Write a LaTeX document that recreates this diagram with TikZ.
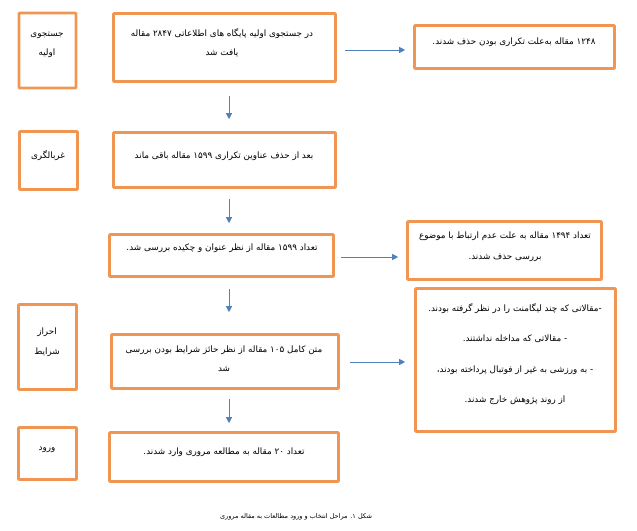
\documentclass[tikz,border=0pt]{standalone}
\usepackage{fontspec}
\newfontfamily\persianfont[Script=Arabic]{DejaVu Sans}
\TeXXeTstate=1
\usetikzlibrary{arrows.meta, positioning}
\definecolor{boxorange}{RGB}{240,150,82}
\definecolor{arrowblue}{RGB}{79,129,189}

\begin{document}
\begin{tikzpicture}[
    x=1pt, y=-1pt,
    >={Triangle[length=6pt, width=6pt]},
    orangebox/.style={rectangle, draw=boxorange, line width=2.6pt, rounded corners=0.8pt, inner sep=0pt},
    fatext/.style={font=\persianfont\fontsize{8.8}{19}\selectfont, align=center, inner sep=0pt},
    flow/.style={->, draw=arrowblue, line width=0.9pt},
]
\useasboundingbox (0,0) rectangle (637,530);

% Stage boxes (left column)
\node[orangebox, minimum width=57pt, minimum height=75pt] (search) at (47.5,50.5) {};
\node[orangebox, minimum width=58pt, minimum height=58pt] (screen) at (48.5,160.5) {};
\node[orangebox, minimum width=58pt, minimum height=85pt] (elig) at (47.5,347) {};
\node[orangebox, minimum width=58pt, minimum height=52pt] (incl) at (47.5,453.5) {};

\node[fatext] (searcht) at (47,44.5) {\beginR جستجوی\endR\\\beginR اولیه\endR};
\node[fatext] (screent) at (48,156) {\beginR غربالگری\endR};
\node[fatext, font=\persianfont\fontsize{8.8}{20}\selectfont] (eligt) at (47,342) {\beginR احراز\endR\\\beginR شرایط\endR};
\node[fatext] (inclt) at (47,450) {\beginR ورود\endR};

% Main flow (middle column)
\node[orangebox, minimum width=222pt, minimum height=68pt] (found) at (224.5,47.5) {};
\node[orangebox, minimum width=222pt, minimum height=55pt] (left) at (224.5,160) {};
\node[orangebox, minimum width=224pt, minimum height=42pt] (title) at (221.5,255.5) {};
\node[orangebox, minimum width=227pt, minimum height=54pt] (full) at (225,361.5) {};
\node[orangebox, minimum width=229pt, minimum height=49pt] (final) at (224,457) {};

\node[fatext] (foundt) at (222,42.5) {\beginR در جستجوی اولیه پایگاه های اطلاعاتی ۲۸۴۷ مقاله\endR\\\beginR یافت شد\endR};
\node[fatext] (leftt) at (224,156) {\beginR بعد از حذف عناوین تکراری ۱۵۹۹ مقاله باقی ماند\endR};
\node[fatext] (titlet) at (222,248) {\beginR تعداد ۱۵۹۹ مقاله از نظر عنوان و چکیده بررسی شد.\endR};
\node[fatext] (fullt) at (224,359) {\beginR متن کامل ۱۰۵ مقاله از نظر حائز شرایط بودن بررسی\endR\\\beginR شد\endR};
\node[fatext] (finalt) at (224,452) {\beginR تعداد ۲۰ مقاله به مطالعه مروری وارد شدند.\endR};

% Excluded (right column)
\node[orangebox, minimum width=200pt, minimum height=43pt] (dup) at (514.5,47) {};
\node[orangebox, minimum width=194pt, minimum height=58pt] (irrel) at (504.5,250.5) {};
\node[orangebox, minimum width=200pt, minimum height=143pt] (excl) at (515.5,360) {};

\node[fatext] (dupt) at (514,42) {\beginR ۱۲۴۸ مقاله به‌علت تکراری بودن حذف شدند.\endR};
\node[fatext, font=\persianfont\fontsize{8.8}{21}\selectfont] (irrelt) at (505,246.5) {\beginR تعداد ۱۴۹۴ مقاله به علت عدم ارتباط با موضوع\endR\\\beginR بررسی حذف شدند.\endR};
\node[fatext, font=\persianfont\fontsize{8.8}{30.5}\selectfont] (exclt) at (515,354) {\beginR -مقالاتی که چند لیگامنت را در نظر گرفته بودند.\endR\\\beginR - مقالاتی که مداخله نداشتند.\endR\\\beginR - به ورزشی به غیر از فوتبال پرداخته بودند،\endR\\\beginR از روند پژوهش خارج شدند.\endR};

% Caption
\node[fatext, font=\persianfont\fontsize{6.5}{10}\selectfont] (caption) at (296,517) {\beginR شکل ۱. مراحل انتخاب و ورود مطالعات به مقاله مروری\endR};

% Arrows
\draw[flow] ([xshift=4.5pt, yshift=-13pt]found.south) -- ([xshift=4.5pt, yshift=12pt]left.north);
\draw[flow] ([xshift=4.5pt, yshift=-10pt]left.south) -- ([xshift=7.5pt, yshift=10pt]title.north);
\draw[flow] ([xshift=7.5pt, yshift=-11pt]title.south) -- ([xshift=4pt, yshift=21pt]full.north);
\draw[flow] ([xshift=4pt, yshift=-9pt]full.south) -- ([xshift=5pt, yshift=8pt]final.north);
\draw[flow, shorten <=8pt, shorten >=8pt] ([yshift=-2.5pt]found.east) -- ([yshift=-2.5pt]found.east -| dup.west);
\draw[flow, shorten <=6pt, shorten >=8pt] ([yshift=-1.5pt]title.east) -- ([yshift=-1.5pt]title.east -| irrel.west);
\draw[flow, shorten <=10pt, shorten >=9pt] ([yshift=-0.5pt]full.east) -- ([yshift=-0.5pt]full.east -| excl.west);

\end{tikzpicture}
\end{document}
